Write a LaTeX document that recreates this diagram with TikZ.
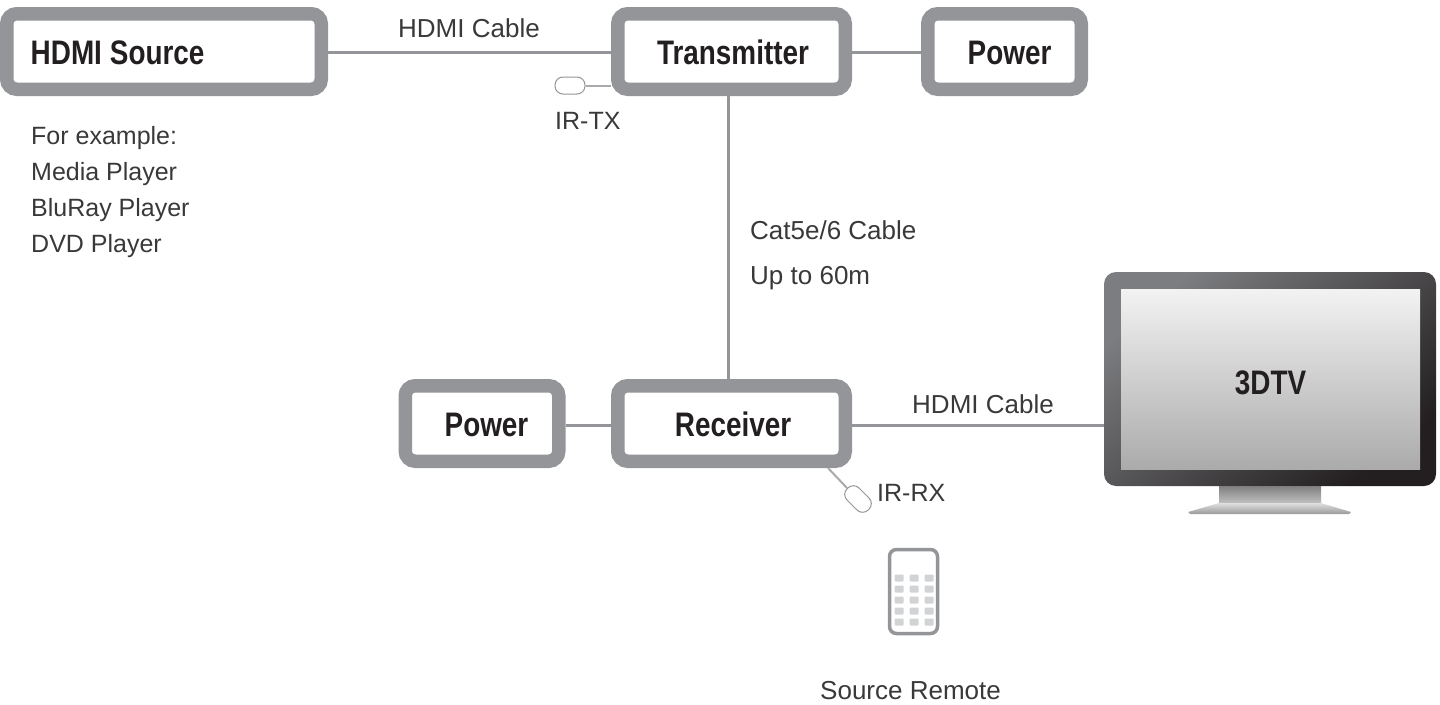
\documentclass[tikz,border=0pt]{standalone}
\usepackage{fontspec}
\setmainfont{Liberation Sans}
\newfontfamily\boxfont[FakeStretch=0.82]{Liberation Sans}
\usetikzlibrary{positioning}
\definecolor{framegray}{HTML}{939598}
\definecolor{inkdark}{HTML}{231F20}
\definecolor{inksoft}{HTML}{3A3839}
\definecolor{keygray}{HTML}{D1D3D4}
\definecolor{tvlight}{HTML}{7C7D80}
\tikzstyle{unit} = [rectangle, rounded corners=10pt, line width=13.5pt, draw=framegray, fill=white, minimum height=75.5pt, text=inkdark, inner sep=0pt, text height=30pt, text depth=3.7pt, font=\boxfont\fontsize{34}{34}\selectfont\bfseries]
\tikzstyle{cable} = [line width=3pt, draw=framegray]
\tikzstyle{thincable} = [line width=2pt, draw=framegray!80]
\tikzstyle{sensor} = [rectangle, rounded corners=8pt, draw=framegray, line width=1pt, fill=white, inner sep=0pt]
\tikzstyle{caption} = [anchor=base west, inner sep=0pt, text=inksoft, font=\fontsize{26}{26}\selectfont]
\tikzstyle{smallcaption} = [caption, font=\fontsize{25}{25}\selectfont]

\begin{document}
\begin{tikzpicture}[x=1pt, y=-1pt]
    \useasboundingbox (0,0) rectangle (1440,704);

    % top row
    \node [unit, minimum width=314.5pt, text width=314.5pt, align=left] (source) at (164,51.5) {\hspace*{24pt}HDMI\hspace{8pt}Source};
    \node [unit, minimum width=227.5pt] (transmitter) at (731.5,51.5) {\hspace*{3pt}Transmitter};
    \node [unit, minimum width=153.5pt] (powertop) at (1004.5,51.5) {\hspace*{10pt}Power};

    % bottom row
    \node [unit, minimum width=227.5pt] (receiver) at (731.5,423.5) {\hspace*{3pt}Receiver};
    \node [unit, minimum width=153.5pt] (powerbottom) at (482,423.5) {\hspace*{9pt}Power};

    % television
    \node [rectangle, rounded corners=12pt, minimum width=332pt, minimum height=214pt, inner sep=0pt, top color=tvlight, bottom color=inkdark, shading angle=40] (tv) at (1270,379) {};
    \node [rectangle, minimum width=299pt, minimum height=180pt, inner sep=0pt, top color=black!5, bottom color=black!33, text=inkdark, text height=30pt, text depth=0pt, font=\boxfont\fontsize{34}{34}\selectfont\bfseries] (screen) at (1270.5,379) {3DTV};
    \shade [top color=black!50, bottom color=black!25] (1219,486) rectangle (1321,503);
    \shade [top color=black!12, bottom color=black!40] (1219,503) -- (1321,503) -- (1351,512) -- (1349,514) -- (1190,514) -- (1188,512) -- cycle;

    % sensors
    \node [sensor, minimum width=30pt, minimum height=17pt] (irtx) at (570,85.5) {};
    \node [sensor, minimum width=30pt, minimum height=17pt, rotate=-45] (irrx) at (858,499) {};
    \coordinate (Qa) at (828,468);
    \coordinate (Qb) at (1104,425);

    % remote
    \node [rectangle, rounded corners=7pt, draw=framegray, line width=3.5pt, fill=white, minimum width=48pt, minimum height=84pt] (remote) at (913.5,591.5) {};
    \foreach \col in {899,914,929}
        \foreach \row in {578,589,600,611,622}
            \fill [keygray, rounded corners=1pt] (\col-4.5,\row-3.5) rectangle (\col+4.5,\row+3.5);

    % cables
    \draw [cable] ([yshift=-1pt]source.east) -- ([yshift=-1pt]transmitter.west);
    \draw [cable] ([yshift=-1pt]transmitter.east) -- ([yshift=-1pt]powertop.west);
    \draw [cable] (728,96) -- (728,379);
    \draw [cable] ([yshift=-1.5pt]powerbottom.east) -- ([yshift=-1.5pt]receiver.west);
    \draw [cable] (receiver.east |- Qb) -- (Qb);
    \draw [thincable] (irtx.east) -- (irtx.east -| transmitter.west);
    \draw [thincable] (Qa) -- (irrx.west);

    % labels
    \node [caption] (cablea) at (398,37) {HDMI Cable};
    \node [caption] (cableb) at (912,413) {HDMI Cable};
    \node [caption] (cat) at (750,239) {Cat5e/6 Cable};
    \node [caption] (length) at (750,284) {Up to 60m};
    \node [smallcaption] (irtxlabel) at (555,129) {IR-TX};
    \node [smallcaption] (irrxlabel) at (877,501) {IR-RX};
    \node [caption] (remotelabel) at (820,699) {Source Remote};
    \node [smallcaption] (examplea) at (31,144) {For example:};
    \node [smallcaption] (exampleb) at (31,180) {Media Player};
    \node [smallcaption] (examplec) at (31,216) {BluRay Player};
    \node [smallcaption] (exampled) at (31,252) {DVD Player};
\end{tikzpicture}
\end{document}
